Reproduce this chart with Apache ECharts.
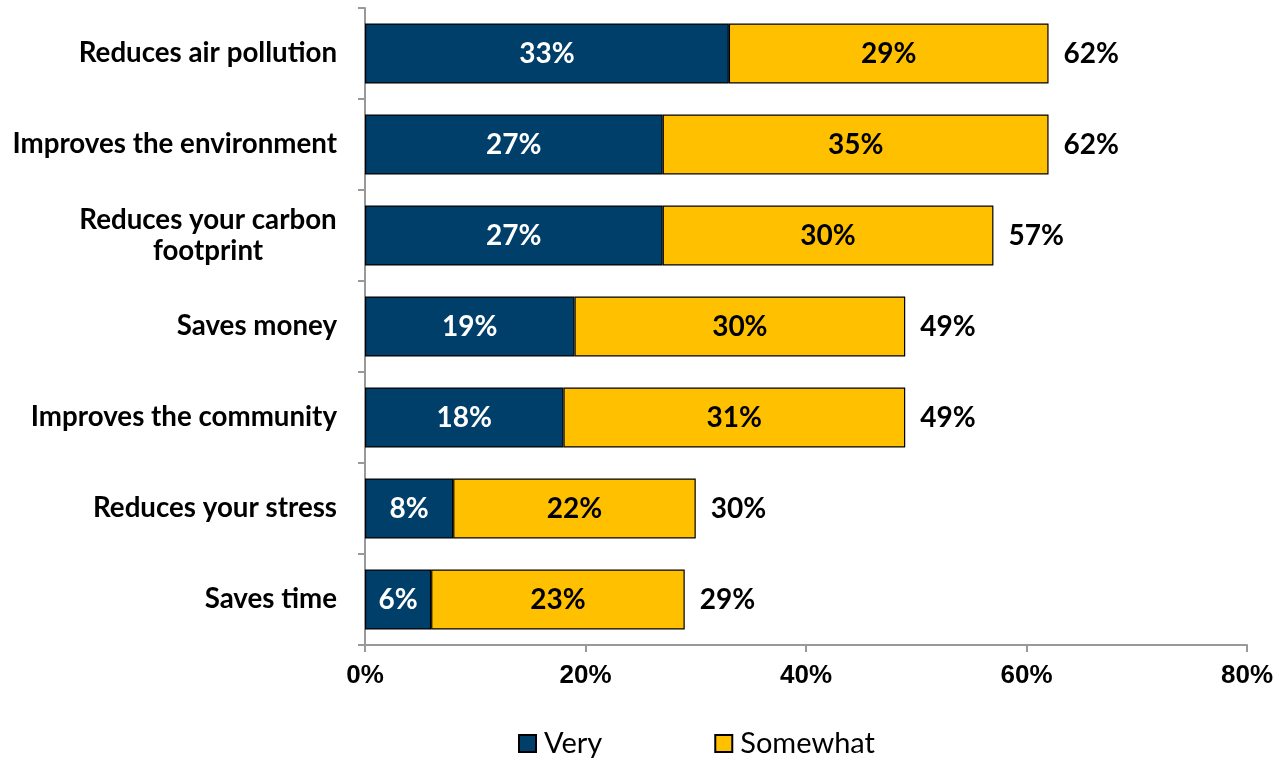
<!DOCTYPE html>
<html>
<head>
<meta charset="utf-8">
<script src="https://cdn.jsdelivr.net/npm/echarts@6/dist/echarts.min.js"></script>
<style>
  html, body { margin: 0; padding: 0; background: #fff; }
  #chart { width: 1277px; height: 763px; }
</style>
</head>
<body>
<div id="chart"></div>
<script>
// Perceived benefits, share of respondents
const categories = [
  'Reduces air pollution',
  'Improves the environment',
  'Reduces your carbon\nfootprint',
  'Saves money',
  'Improves the community',
  'Reduces your stress',
  'Saves time'
];
const very = [33, 27, 27, 19, 18, 8, 6];
const somewhat = [29, 35, 30, 30, 31, 22, 23];
const xTicks = [0, 20, 40, 60, 80];

const totals = very.map((v, i) => v + somewhat[i]);

const labelFont = 'Lato, "Open Sans", sans-serif';
const chart = echarts.init(document.getElementById('chart'));

chart.setOption({
  animation: false,
  grid: { left: 365, right: 30, top: 8, bottom: 118, containLabel: false },
  xAxis: {
    type: 'value',
    min: xTicks[0],
    max: xTicks[xTicks.length - 1],
    interval: xTicks[1] - xTicks[0],
    axisLine: { show: true, lineStyle: { color: '#999', width: 2 } },
    axisTick: { show: true, length: 7, lineStyle: { color: '#999', width: 2 } },
    splitLine: { show: false },
    axisLabel: {
      margin: 18,
      formatter: '{value}%',
      color: '#000',
      fontFamily: '"Liberation Sans", Arial, sans-serif',
      fontWeight: 'bold',
      fontSize: 26
    }
  },
  yAxis: {
    type: 'category',
    inverse: true,
    data: categories,
    axisLine: { show: true, lineStyle: { color: '#999', width: 2 } },
    axisTick: { show: true, length: 7, lineStyle: { color: '#999', width: 2 } },
    axisLabel: {
      margin: 28,
      color: '#000',
      fontFamily: labelFont,
      fontWeight: 'bold',
      fontSize: 27.7,
      formatter: function (v) {
        if (v.indexOf('\n') < 0) return v;
        return v.split('\n').map(s => '{c|' + s + '}').join('\n');
      },
      rich: {
        c: {
          width: 258,
          align: 'center',
          color: '#000',
          fontFamily: labelFont,
          fontWeight: 'bold',
          fontSize: 27.7,
          lineHeight: 31
        }
      }
    }
  },
  legend: {
    bottom: 0,
    left: 513,
    itemGap: 112,
    itemWidth: 17,
    itemHeight: 17,
    icon: 'rect',
    textStyle: { fontFamily: labelFont, fontSize: 29, color: '#000', padding: [0, 0, 0, 3] },
    data: ['Very', 'Somewhat']
  },
  series: [
    {
      name: 'Very',
      type: 'bar',
      stack: 'total',
      barWidth: 60,
      data: very,
      itemStyle: { color: '#013F6B', borderColor: '#000', borderWidth: 1.2 },
      label: {
        show: true,
        position: 'inside',
        formatter: '{c}%',
        color: '#fff',
        fontFamily: labelFont,
        fontWeight: 'bold',
        fontSize: 28
      }
    },
    {
      name: 'Somewhat',
      type: 'bar',
      stack: 'total',
      barWidth: 60,
      data: somewhat,
      itemStyle: { color: '#FFC000', borderColor: '#000', borderWidth: 1.2 },
      label: {
        show: true,
        position: 'inside',
        formatter: '{c}%',
        color: '#000',
        fontFamily: labelFont,
        fontWeight: 'bold',
        fontSize: 28
      }
    },
    {
      // Invisible bar carrying the total label at the end of each stack
      name: 'Total',
      type: 'bar',
      barWidth: 60,
      barGap: '-100%',
      z: 1,
      data: totals,
      itemStyle: { color: 'rgba(0,0,0,0)' },
      emphasis: { disabled: true },
      tooltip: { show: false },
      label: {
        show: true,
        position: 'right',
        distance: 15,
        formatter: '{c}%',
        color: '#000',
        fontFamily: labelFont,
        fontWeight: 'bold',
        fontSize: 28
      }
    }
  ]
});
</script>
</body>
</html>
